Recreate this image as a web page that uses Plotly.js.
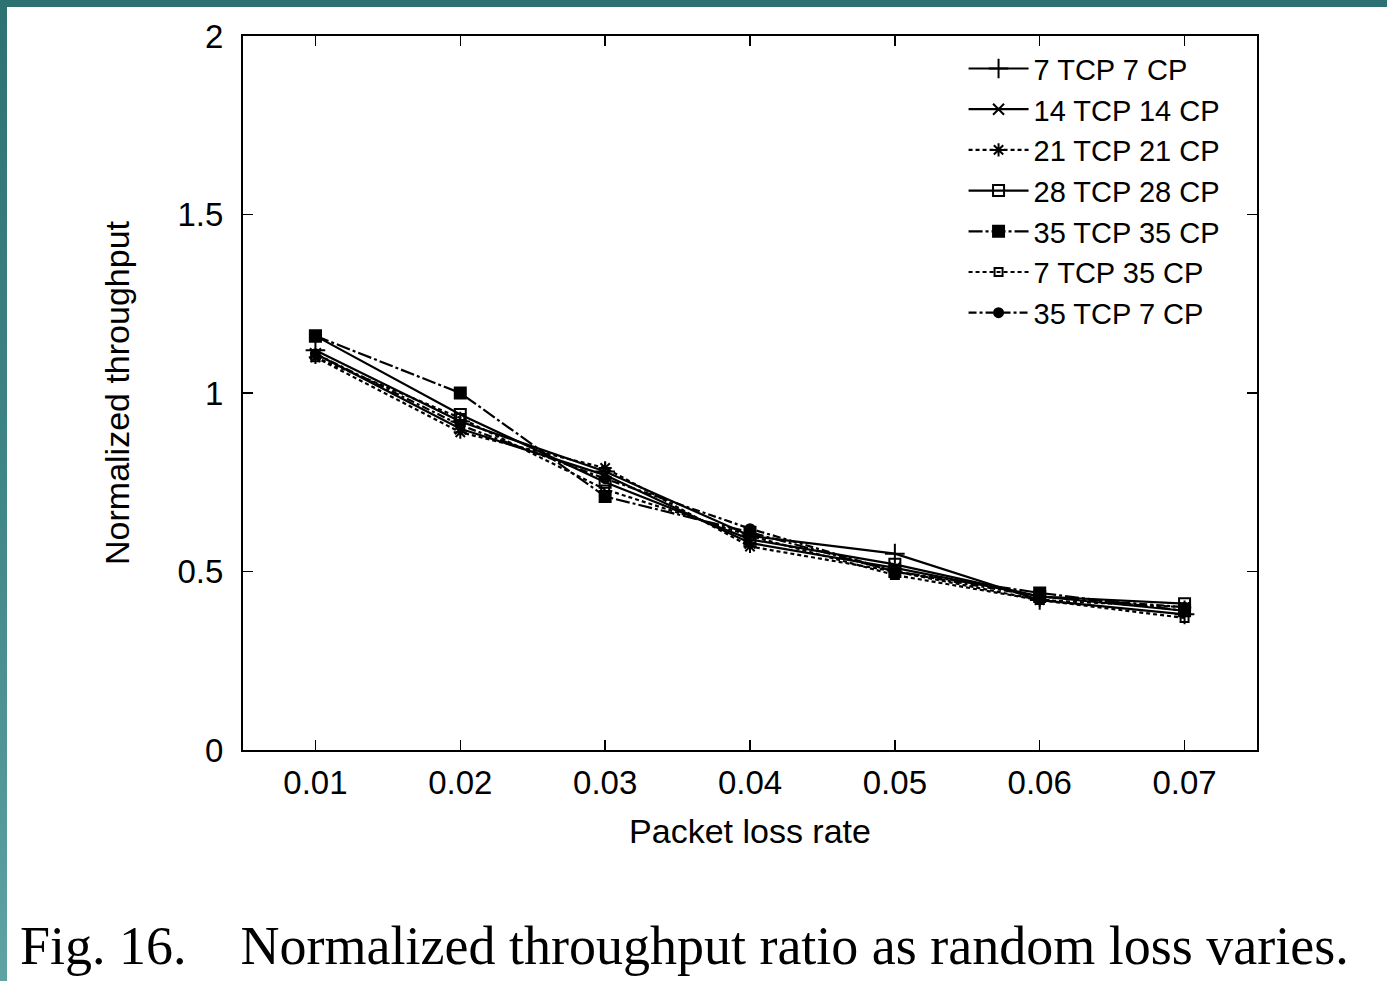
<!DOCTYPE html>
<html>
<head>
<meta charset="utf-8">
<script src="https://cdn.plot.ly/plotly-3.0.1.min.js"></script>
<style>
  html, body { margin: 0; padding: 0; background: #ffffff; }
  #wrap { position: relative; width: 1387px; height: 981px; overflow: hidden; }
  #chart { position: absolute; left: 0; top: 0; width: 1387px; height: 981px; }
  #topbar { position: absolute; left: 0; top: 0; width: 1387px; height: 7px; background: #2d7272; z-index: 5; }
  #leftbar { position: absolute; left: 0; top: 0; width: 7px; height: 981px; z-index: 5;
             background: linear-gradient(to bottom, #2d7272 0%, #3f8686 50%, #5fa3a3 100%); }
</style>
</head>
<body>
<div id="wrap">
  <div id="chart"></div>
  <div id="topbar"></div>
  <div id="leftbar"></div>
</div>
<script>
// Packet loss rate (x)
const lossRates = [0.01, 0.02, 0.03, 0.04, 0.05, 0.06, 0.07];
const xTickLabels = ["0.01", "0.02", "0.03", "0.04", "0.05", "0.06", "0.07"];
const yTickVals = [0, 0.5, 1, 1.5, 2];
const yTickLabels = ["0", "0.5", "1", "1.5", "2"];

// Series names
const seriesNames = ["7 TCP 7 CP", "14 TCP 14 CP", "21 TCP 21 CP", "28 TCP 28 CP",
                     "35 TCP 35 CP", "7 TCP 35 CP", "35 TCP 7 CP"];

// Normalized throughput values
const tcp7cp7   = [1.12, 0.92, 0.78, 0.60, 0.55, 0.42, 0.38];
const tcp14cp14 = [1.11, 0.90, 0.77, 0.58, 0.51, 0.43, 0.39];
const tcp21cp21 = [1.10, 0.89, 0.79, 0.57, 0.50, 0.42, 0.40];
const tcp28cp28 = [1.16, 0.94, 0.75, 0.59, 0.52, 0.43, 0.41];
const tcp35cp35 = [1.16, 1.00, 0.71, 0.61, 0.50, 0.44, 0.39];
const tcp7cp35  = [1.10, 0.93, 0.73, 0.60, 0.49, 0.42, 0.37];
const tcp35cp7  = [1.11, 0.91, 0.76, 0.62, 0.50, 0.43, 0.40];

const seriesValues = [tcp7cp7, tcp14cp14, tcp21cp21, tcp28cp28, tcp35cp35, tcp7cp35, tcp35cp7];

const styles = [
  {dash: "solid",            symbol: "cross-thin-open", size: 14},
  {dash: "solid",            symbol: "x-thin-open",     size: 11},
  {dash: "4px,3px",          symbol: "asterisk-open",   size: 11},
  {dash: "solid",            symbol: "square-open",     size: 11},
  {dash: "14px,3px,3px,3px", symbol: "square",          size: 11},
  {dash: "4px,3px",          symbol: "square-open",     size: 8},
  {dash: "8px,3px,3px,3px",  symbol: "circle",          size: 9}
];

const traces = seriesNames.map((name, i) => ({
  type: "scatter",
  mode: "lines+markers",
  name: name,
  x: lossRates,
  y: seriesValues[i],
  line: {color: "#000000", width: 2.2, dash: styles[i].dash},
  marker: {color: "#000000", symbol: styles[i].symbol, size: styles[i].size,
           line: {color: "#000000", width: 2}}
}));

const fontFam = "Liberation Sans, Arial, Helvetica, sans-serif";

const layout = {
  width: 1387,
  height: 981,
  margin: {l: 243, r: 130, t: 36, b: 231, pad: 0},
  paper_bgcolor: "#ffffff",
  plot_bgcolor: "#ffffff",
  font: {family: fontFam, size: 32, color: "#000000"},
  showlegend: true,
  legend: {
    x: 0.968, xanchor: "right", y: 0.99, yanchor: "top",
    bgcolor: "rgba(255,255,255,0)",
    font: {family: fontFam, size: 29, color: "#000000"},
    tracegroupgap: 0,
    itemwidth: 60
  },
  xaxis: {
    range: [0.005, 0.075],
    tickvals: lossRates,
    ticktext: xTickLabels,
    ticks: "inside",
    ticklen: 10,
    tickwidth: 1.5,
    tickcolor: "#000000",
    showline: true,
    linecolor: "#000000",
    linewidth: 2,
    mirror: "ticks",
    showgrid: false,
    zeroline: false,
    ticklabelstandoff: 2,
    tickfont: {family: fontFam, size: 33, color: "#000000"},
    title: {text: "Packet loss rate", font: {family: fontFam, size: 34, color: "#000000"}, standoff: 20}
  },
  yaxis: {
    range: [0, 2],
    tickvals: yTickVals,
    ticktext: yTickLabels,
    ticks: "inside",
    ticklen: 10,
    tickwidth: 1.5,
    tickcolor: "#000000",
    showline: true,
    linecolor: "#000000",
    linewidth: 2,
    mirror: "ticks",
    showgrid: false,
    zeroline: false,
    ticklabelstandoff: 11,
    tickfont: {family: fontFam, size: 33, color: "#000000"},
    title: {text: "Normalized throughput", font: {family: fontFam, size: 34, color: "#000000"}, standoff: 38}
  },
  annotations: [{
    xref: "paper", yref: "paper",
    x: -0.222, y: -0.274,
    xanchor: "left", yanchor: "middle",
    showarrow: false,
    text: "Fig. 16.&nbsp;&nbsp;&nbsp;&nbsp;Normalized throughput ratio as random loss varies.",
    font: {family: "Liberation Serif, Times New Roman, serif", size: 54, color: "#000000"}
  }]
};

Plotly.newPlot("chart", traces, layout, {displayModeBar: false, staticPlot: true});
</script>
</body>
</html>
